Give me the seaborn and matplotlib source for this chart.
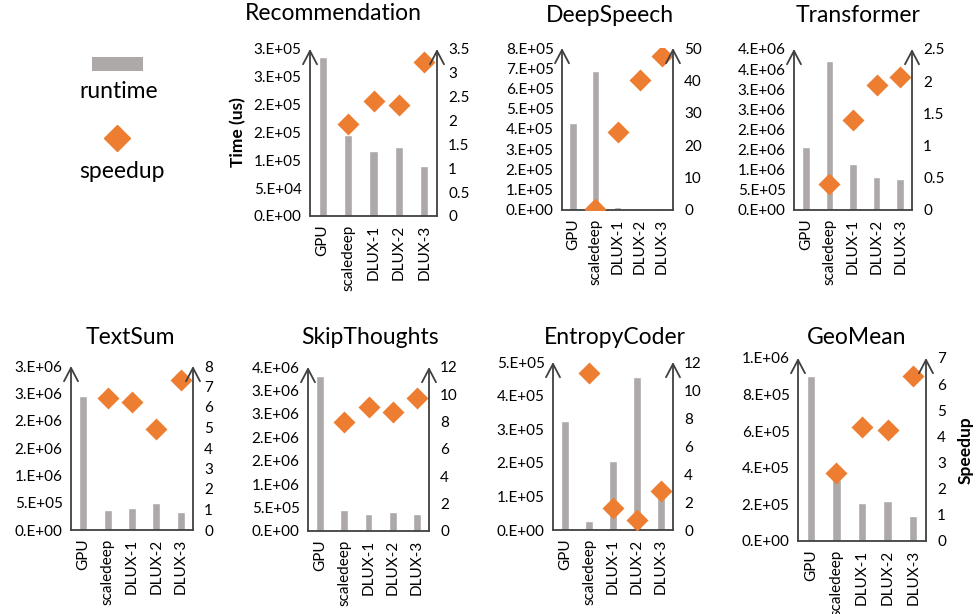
import math
import numpy as np
import pandas as pd
import matplotlib
matplotlib.use("Agg")
import matplotlib.pyplot as plt
from matplotlib.ticker import FuncFormatter, MultipleLocator
import seaborn as sns

# ---------------- data ----------------
categories = ["GPU", "scaledeep", "DLUX-1", "DLUX-2", "DLUX-3"]
nan = float("nan")

rec_runtime = [2.856e5, 1.458e5, 1.176e5, 1.248e5, 0.90e5]
rec_speedup = [nan, 1.93, 2.40, 2.32, 3.22]

ds_runtime = [4.32e5, 6.85e5, 1.6e4, 8e3, 8e3]
ds_speedup = [nan, 0.3, 24.2, 40.0, 47.6]

tf_runtime = [1.577e6, 3.71e6, 1.137e6, 8.3e5, 7.8e5]
tf_speedup = [nan, 0.405, 1.39, 1.935, 2.064]

ts_runtime = [2.451e6, 3.66e5, 3.96e5, 5.0e5, 3.35e5]
ts_speedup = [nan, 6.45, 6.23, 4.94, 7.32]

st_runtime = [3.308e6, 4.41e5, 3.63e5, 3.98e5, 3.63e5]
st_speedup = [nan, 7.98, 9.07, 8.73, 9.73]

ec_runtime = [3.25e5, 2.8e4, 2.05e5, 4.55e5, 1.14e5]
ec_speedup = [nan, 11.2, 1.59, 0.71, 2.80]

gm_runtime = [8.99e5, 3.38e5, 2.08e5, 2.18e5, 1.37e5]
gm_speedup = [nan, 2.61, 4.35, 4.25, 6.32]

titles = ["Recommendation", "DeepSpeech", "Transformer",
          "TextSum", "SkipThoughts", "EntropyCoder", "GeoMean"]
runtimes = [rec_runtime, ds_runtime, tf_runtime, ts_runtime, st_runtime, ec_runtime, gm_runtime]
speedups = [rec_speedup, ds_speedup, tf_speedup, ts_speedup, st_speedup, ec_speedup, gm_speedup]
# left axis (max, step), right axis (max, step)
left_axis = [(3e5, 5e4), (8e5, 1e5), (4e6, 5e5), (3e6, 5e5), (3.5e6, 5e5), (5e5, 1e5), (1e6, 2e5)]
right_axis = [(3.5, 0.5), (50, 10), (2.5, 0.5), (8, 1), (12, 2), (12, 2), (7, 1)]

# ---------------- layout (pixels) ----------------
W, H = 976, 614
# left, right, top, bottom of each plot area; title center x, y
boxes = [(310, 437, 49, 216, 333, 14),
         (562, 673, 48, 210, 610, 15),
         (794, 912, 49, 210, 858, 15),
         (71, 193, 366, 530, 130, 338),
         (308, 429, 367, 531, 370, 338),
         (553, 673, 362, 530, 615, 337),
         (798, 926, 358, 541, 857, 337)]

BAR = "#ADA9A8"
ORANGE = "#ED7D31"
SPINE = "#404040"

sns.set_theme(style="white")
plt.rcParams["font.family"] = ["Lato", "DejaVu Sans"]

fig = plt.figure(figsize=(W / 100, H / 100), dpi=100)


def excel_fmt(v, pos=None):
    if abs(v) < 1e-12:
        return "0.E+00"
    e = int(math.floor(math.log10(abs(v)) + 1e-12))
    m = v / 10 ** e
    mi = int(math.floor(m + 0.5 + 1e-9))
    if mi >= 10:
        mi = 1
        e += 1
    return f"{mi}.E{e:+03d}"


def num_fmt(v, pos=None):
    return f"{v:g}"


for i in range(7):
    l, r, t, b, tx, ty = boxes[i]
    ax = fig.add_axes([l / W, 1 - b / H, (r - l) / W, (b - t) / H])
    df = pd.DataFrame({"cat": categories, "runtime": runtimes[i], "speedup": speedups[i]})
    sns.barplot(data=df, x="cat", y="runtime", order=categories, ax=ax,
                color=BAR, saturation=1, width=0.33, errorbar=None, zorder=1)
    ax2 = ax.twinx()
    sns.pointplot(data=df, x="cat", y="speedup", order=categories, ax=ax2,
                  color=ORANGE, markers="D", linestyle="none", markersize=9.5,
                  errorbar=None, zorder=3)
    ax.set_xlim(-0.5, 4.5)
    lmax, lstep = left_axis[i]
    rmax, rstep = right_axis[i]
    ax.set_ylim(0, lmax)
    ax2.set_ylim(0, rmax)
    ax.yaxis.set_major_locator(MultipleLocator(lstep))
    ax2.yaxis.set_major_locator(MultipleLocator(rstep))
    ax.yaxis.set_major_formatter(FuncFormatter(excel_fmt))
    ax2.yaxis.set_major_formatter(FuncFormatter(num_fmt))
    for a in (ax, ax2):
        a.set_xlabel("")
        a.set_ylabel("")
        a.grid(False)
        a.set_facecolor("none")
        for s in a.spines.values():
            s.set_visible(False)
        a.tick_params(axis="both", length=0, labelsize=11, colors="black")
    ax.tick_params(axis="y", pad=6)
    ax2.tick_params(axis="y", pad=8)
    ax.tick_params(axis="x", pad=6)
    plt.setp(ax.get_xticklabels(), rotation=90)
    # axis lines with arrows
    ax2.spines["bottom"].set_visible(True)
    ax2.spines["bottom"].set_color(SPINE)
    ax2.spines["bottom"].set_linewidth(1.3)
    for xpos in (0, 1):
        ax2.annotate("", xy=(xpos, 1.0), xytext=(xpos, 0), xycoords="axes fraction",
                     textcoords="axes fraction",
                     arrowprops=dict(arrowstyle="->,head_length=0.8,head_width=0.42",
                                     color=SPINE, lw=1.3, shrinkA=0, shrinkB=0),
                     annotation_clip=False)
    fig.text(tx / W, 1 - ty / H, titles[i], ha="center", va="center", fontsize=16.5, color="black")

fig.text(238 / W, 1 - 132 / H, "Time (us)", rotation=90, ha="center", va="center",
         fontsize=12.5, fontweight="bold", color="black")
fig.text(966 / W, 1 - 450 / H, "Speedup", rotation=90, ha="center", va="center",
         fontsize=12.5, fontweight="bold", color="black")

# legend
lax = fig.add_axes([0, 0, 1, 1])
lax.set_xlim(0, W)
lax.set_ylim(H, 0)
lax.axis("off")
lax.add_patch(plt.Rectangle((92, 57), 51, 14, color=BAR, lw=0))
lax.text(119, 91, "runtime", ha="center", va="center", fontsize=16.5, color="black")
lax.plot([117], [138], marker="D", markersize=13, color=ORANGE, lw=0)
lax.text(122, 172, "speedup", ha="center", va="center", fontsize=16.5, color="black")

fig.savefig("out.png", dpi=100)
